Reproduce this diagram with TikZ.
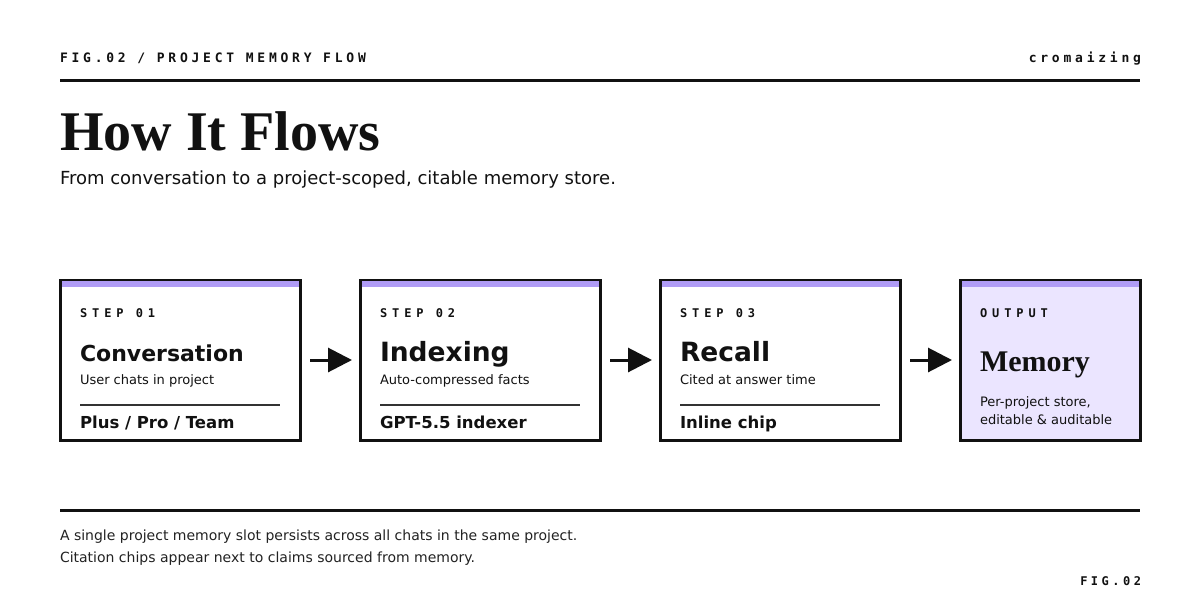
\documentclass[tikz,border=0pt]{standalone}
\usepackage{fontspec}
\setmainfont{DejaVu Sans}
\newfontfamily\serifface{Liberation Serif}
\newfontfamily\monohead[LetterSpace=29]{DejaVu Sans Mono}
\newfontfamily\monostep[LetterSpace=41]{DejaVu Sans Mono}
\usetikzlibrary{arrows.meta,positioning,calc}

\definecolor{ink}{HTML}{111111}
\definecolor{softink}{HTML}{222222}
\definecolor{rulegray}{HTML}{333333}
\definecolor{barpurple}{HTML}{B09CF6}
\definecolor{memfill}{HTML}{EBE5FF}

\newcommand{\fs}[1]{\fontsize{#1}{#1}\selectfont}

\tikzset{
  txt/.style={inner sep=0pt,outer sep=0pt,anchor=base west,text=ink},
  stepbox/.style={draw=ink,line width=3pt,fill=white,minimum width=240pt,minimum height=160pt,
    anchor=north west,inner sep=0pt,outer sep=0pt},
  rulebar/.style={draw=ink,line width=3pt},
  divider/.style={draw=rulegray,line width=2pt},
  flowarr/.style={draw=ink,line width=3pt,-{Triangle[length=24pt,width=24pt]}}
}

\begin{document}
\begin{tikzpicture}[x=1pt,y=-1pt]
\useasboundingbox (0,0) rectangle (1200,600);
\fill[white] (0,0) rectangle (1200,600);

% header
\node[txt] (figtag) at (60,62) {\monohead\bfseries\fs{13}FIG.02 / PROJECT MEMORY FLOW};
\node[txt,anchor=base east] (brand) at (1141,62) {\monohead\bfseries\fs{13}cromaizing};
\coordinate (hl) at (60,80);
\coordinate (hr) at (1140,80);
\draw[rulebar] (hl) -- (hr);
\node[txt] (title) at (60,150) {\serifface\bfseries\fs{56}How It Flows};
\node[txt] (subtitle) at (60,184) {\fs{18}From conversation to a project-scoped, citable memory store.};

% steps
\foreach \x/\lbl/\ttl/\sz/\sub/\foot [count=\n] in {
  60/STEP 01/Conversation/22/User chats in project/{Plus / Pro / Team},
  360/STEP 02/Indexing/26.5/Auto-compressed facts/GPT-5.5 indexer,
  660/STEP 03/Recall/26.5/Cited at answer time/Inline chip}{
  \node[stepbox] (s\n) at (\x,280) {};
  \fill[barpurple] ([xshift=1.5pt,yshift=-0.5pt]s\n.north west) rectangle ([xshift=-1.5pt,yshift=-6.5pt]s\n.north east);
  \node[txt] (s\n-lbl) at ([xshift=20pt,yshift=-37pt]s\n.north west) {\monostep\bfseries\fs{12}\lbl};
  \node[txt] (s\n-ttl) at ([xshift=20pt,yshift=-81pt]s\n.north west) {\bfseries\fs{\sz}\ttl};
  \node[txt] (s\n-sub) at ([xshift=20pt,yshift=-104pt]s\n.north west) {\fs{13}\sub};
  \draw[divider] ([xshift=20pt,yshift=-125pt]s\n.north west) -- ([xshift=-20pt,yshift=-125pt]s\n.north east);
  \node[txt] (s\n-foot) at ([xshift=20pt,yshift=-148pt]s\n.north west) {\bfseries\fs{16.5}\foot};
}

% output
\node[stepbox,fill=memfill,minimum width=180pt] (s4) at (960,280) {};
\fill[barpurple] ([xshift=1.5pt,yshift=-0.5pt]s4.north west) rectangle ([xshift=-1.5pt,yshift=-6.5pt]s4.north east);
\node[txt] (s4-lbl) at ([xshift=20pt,yshift=-37pt]s4.north west) {\monostep\bfseries\fs{12}OUTPUT};
\node[txt] (s4-ttl) at ([xshift=20pt,yshift=-91pt]s4.north west) {\serifface\bfseries\fs{30}Memory};
\node[txt] (s4-sub) at ([xshift=20pt,yshift=-126pt]s4.north west) {\fs{13}Per-project store,};
\node[txt] (s4-sub2) at ([xshift=20pt,yshift=-144pt]s4.north west) {\fs{13}editable \& auditable};

% arrows
\foreach \a/\b in {s1/s2,s2/s3,s3/s4}
  \draw[flowarr] ([xshift=10pt]\a.east) -- ([xshift=-8pt]\b.west);

% footer
\coordinate (fl) at (60,510);
\coordinate (fr) at (1140,510);
\draw[rulebar] (fl) -- (fr);
\node[txt,text=softink] (note1) at (60,540) {\fs{14}A single project memory slot persists across all chats in the same project.};
\node[txt,text=softink] (note2) at (60,562) {\fs{14}Citation chips appear next to claims sourced from memory.};
\node[txt,anchor=base east] (figfoot) at (1141,585) {\monohead\bfseries\fs{12}FIG.02};
\end{tikzpicture}
\end{document}
